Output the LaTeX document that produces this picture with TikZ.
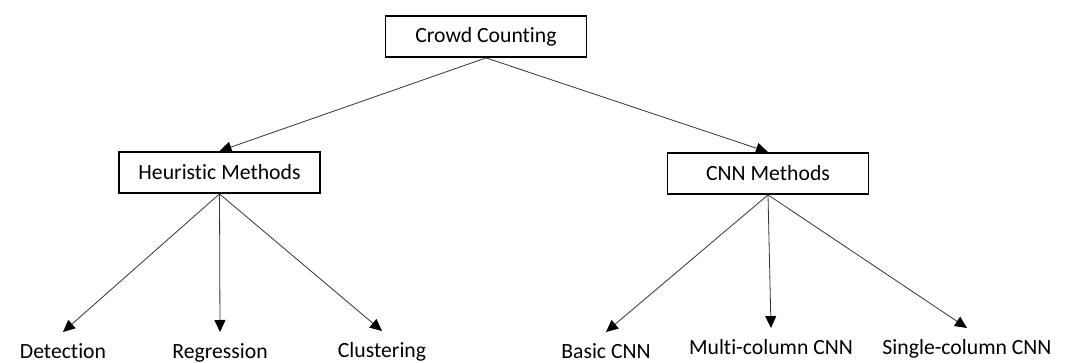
\documentclass[tikz,border=0pt]{standalone}
\usepackage{fontspec}
\setmainfont{Carlito}[Ligatures=CommonOff]
\usetikzlibrary{arrows.meta}

\begin{document}
\begin{tikzpicture}[x=1pt, y=-1pt,
        font=\fontsize{21.7}{26}\selectfont,
        box/.style={draw, line width=1.8pt, minimum width=201pt, minimum height=41pt, inner sep=0pt},
        leaf/.style={anchor=north, inner xsep=0pt, inner ysep=11pt, text height=15pt, text depth=3pt},
        arr/.style={-{Triangle[length=12pt, width=11pt, color=black]}, line width=0.8pt, draw=black!80}]

        \useasboundingbox (0, 0) rectangle (1073, 363);

        \node[box] (crowd) at (486, 36.5) {Crowd Counting};
        \node[box] (heu) at (219.5, 172.5) {Heuristic Methods};
        \node[box] (cnn) at (768, 173.5) {CNN Methods};

        \node[leaf] (det) at (63, 332) {Detection};
        \node[leaf] (reg) at (220, 332) {Regression};
        \node[leaf] (clu) at (382, 331) {Clustering};

        \node[leaf] (basic) at (606, 332) {Basic CNN};
        \node[leaf] (multi) at (771, 328) {Multi-column CNN};
        \node[leaf] (single) at (967, 328) {Single-column CNN};

        \draw[arr] (crowd.south) -- (heu.north);
        \draw[arr] (crowd.south) -- (cnn.north);

        \foreach \leaf in {det, reg, clu}
            \draw[arr] (heu.south) -- (\leaf.north);

        \foreach \leaf in {basic, multi, single}
            \draw[arr] (cnn.south) -- (\leaf.north);

    \end{tikzpicture}
\end{document}
